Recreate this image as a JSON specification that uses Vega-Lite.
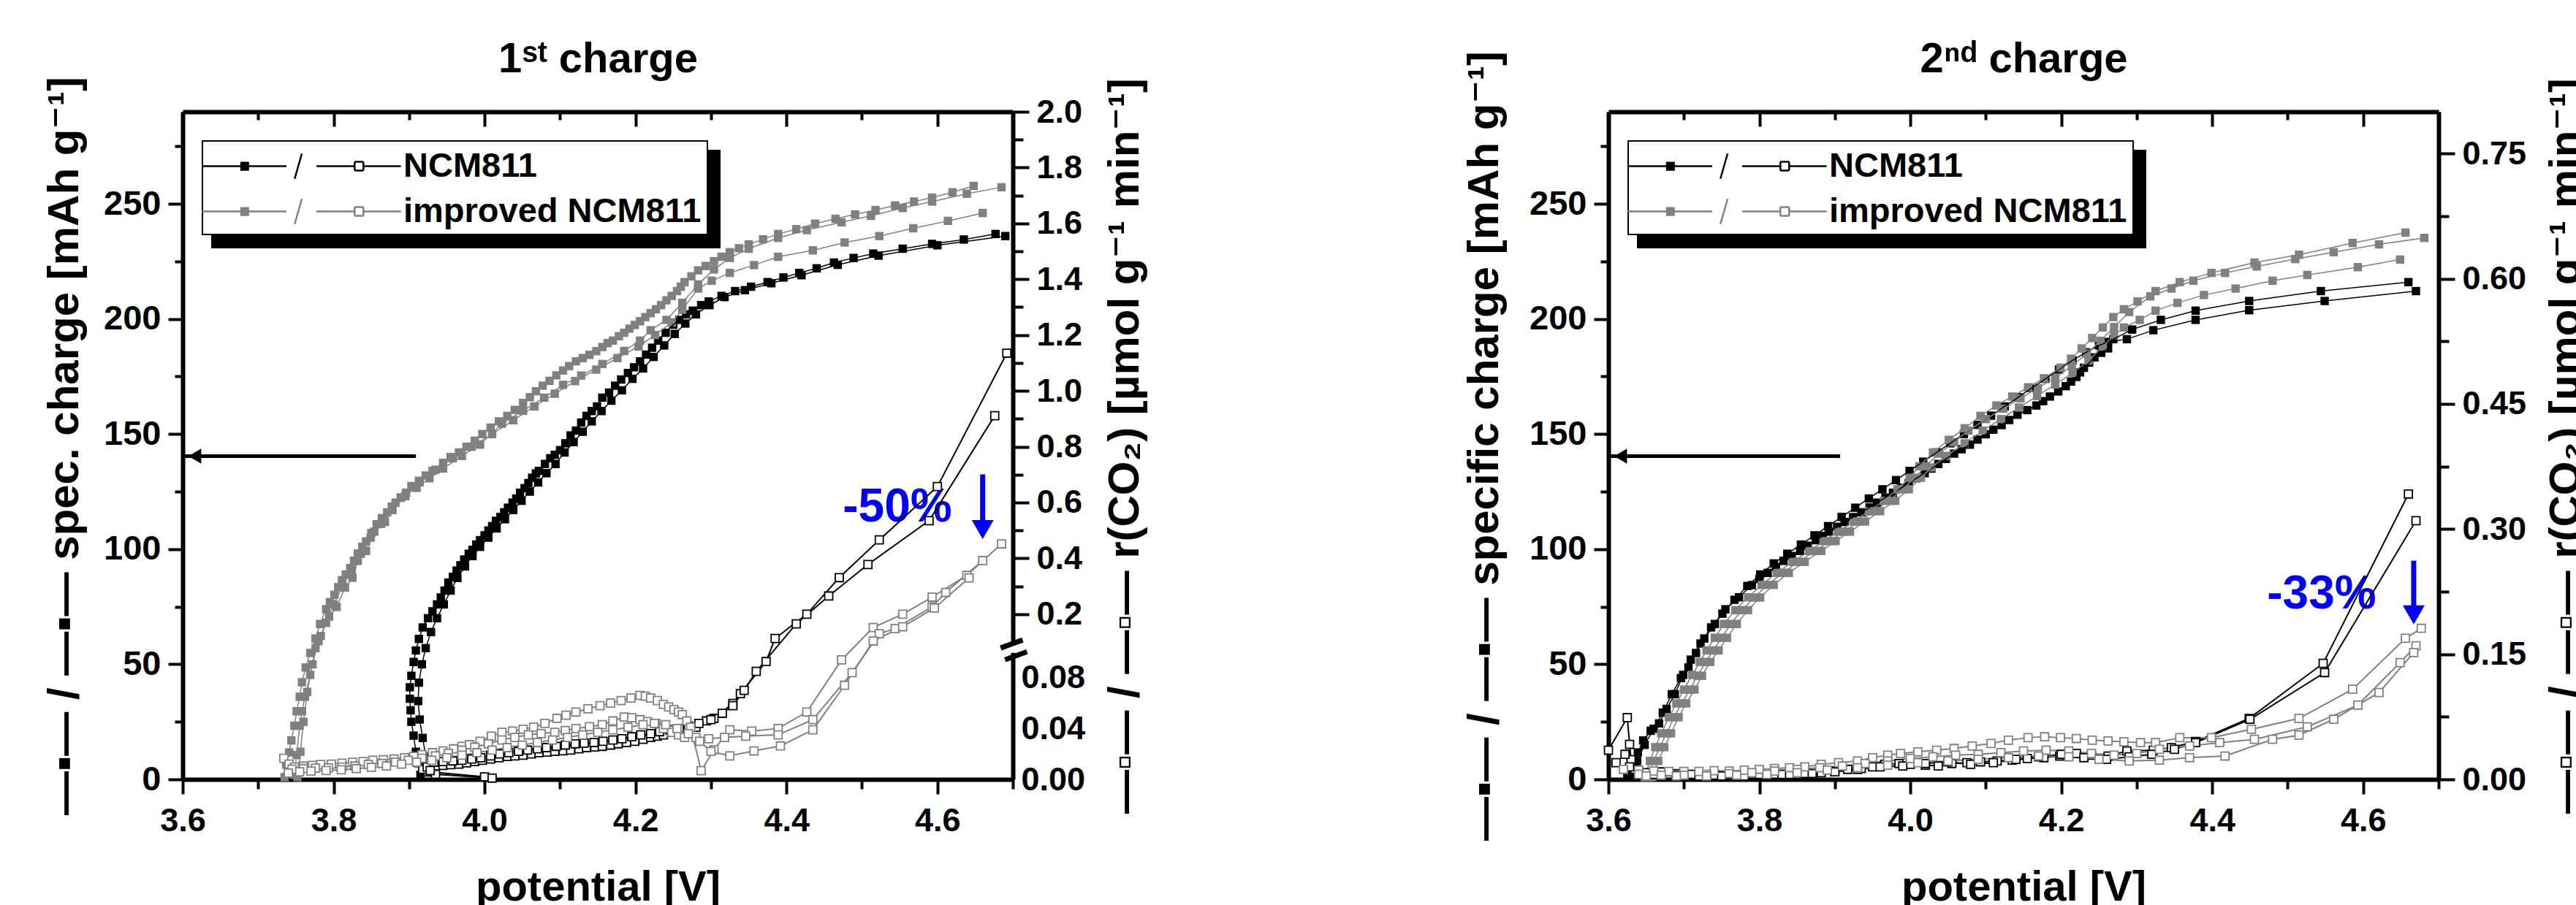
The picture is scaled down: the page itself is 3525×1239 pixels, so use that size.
{
"$schema": "https://vega.github.io/schema/vega-lite/v6.json",
"autosize": "none",
"padding": {"left": 250, "top": 153, "right": 3275, "bottom": 1086},
"config": {
 "view": {"stroke": null},
 "font": "Liberation Sans, DejaVu Sans",
 "axis": {"grid": false, "labelFont": "Liberation Sans, DejaVu Sans", "labelFontWeight": "bold", "labelFontSize": 45, "labelColor": "black", "titleFont": "Liberation Sans, DejaVu Sans", "titleFontWeight": "bold", "titleFontSize": 60, "titleColor": "black", "domainColor": "black", "domainWidth": 6, "tickColor": "black", "tickWidth": 4, "labelOverlap": false, "labelFlush": false, "labelBound": false}
},
"datasets": {
"spec1": [
{"c":"N1","V":3.915,"Q":2},{"c":"N1","V":3.912,"Q":7},{"c":"N1","V":3.909,"Q":12},{"c":"N1","V":3.906,"Q":19},{"c":"N1","V":3.903,"Q":25},{"c":"N1","V":3.902,"Q":30},{"c":"N1","V":3.901,"Q":35},{"c":"N1","V":3.901,"Q":40},{"c":"N1","V":3.903,"Q":45},{"c":"N1","V":3.906,"Q":51},{"c":"N1","V":3.909,"Q":56},{"c":"N1","V":3.913,"Q":61},{"c":"N1","V":3.918,"Q":66},{"c":"N1","V":3.925,"Q":70},{"c":"N1","V":3.931,"Q":73},{"c":"N1","V":3.937,"Q":76},{"c":"N1","V":3.942,"Q":79},{"c":"N1","V":3.947,"Q":82},{"c":"N1","V":3.952,"Q":85.5},{"c":"N1","V":3.958,"Q":88},{"c":"N1","V":3.963,"Q":90.7},{"c":"N1","V":3.968,"Q":93},{"c":"N1","V":3.973,"Q":95.5},{"c":"N1","V":3.979,"Q":98},{"c":"N1","V":3.984,"Q":99.7},{"c":"N1","V":3.989,"Q":102},{"c":"N1","V":3.994,"Q":103.9},{"c":"N1","V":4.0,"Q":106},{"c":"N1","V":4.005,"Q":108.1},{"c":"N1","V":4.01,"Q":110},{"c":"N1","V":4.015,"Q":112.3},{"c":"N1","V":4.021,"Q":114},{"c":"N1","V":4.026,"Q":116},{"c":"N1","V":4.031,"Q":118},{"c":"N1","V":4.037,"Q":120.2},{"c":"N1","V":4.042,"Q":122},{"c":"N1","V":4.047,"Q":124.5},{"c":"N1","V":4.053,"Q":126.5},{"c":"N1","V":4.058,"Q":128.7},{"c":"N1","V":4.063,"Q":131},{"c":"N1","V":4.068,"Q":132.9},{"c":"N1","V":4.072,"Q":134},{"c":"N1","V":4.08,"Q":137},{"c":"N1","V":4.087,"Q":139.5},{"c":"N1","V":4.093,"Q":141},{"c":"N1","V":4.1,"Q":143},{"c":"N1","V":4.107,"Q":146},{"c":"N1","V":4.114,"Q":149.4},{"c":"N1","V":4.121,"Q":151.5},{"c":"N1","V":4.128,"Q":155},{"c":"N1","V":4.135,"Q":157.9},{"c":"N1","V":4.142,"Q":160},{"c":"N1","V":4.149,"Q":162},{"c":"N1","V":4.156,"Q":165.8},{"c":"N1","V":4.165,"Q":168},{"c":"N1","V":4.173,"Q":171},{"c":"N1","V":4.181,"Q":173.7},{"c":"N1","V":4.19,"Q":176.5},{"c":"N1","V":4.198,"Q":179},{"c":"N1","V":4.206,"Q":181.6},{"c":"N1","V":4.214,"Q":184.5},{"c":"N1","V":4.222,"Q":187.5},{"c":"N1","V":4.23,"Q":190.6},{"c":"N1","V":4.24,"Q":194},{"c":"N1","V":4.25,"Q":197.5},{"c":"N1","V":4.258,"Q":199.6},{"c":"N1","V":4.267,"Q":202},{"c":"N1","V":4.276,"Q":203.6},{"c":"N1","V":4.287,"Q":206},{"c":"N1","V":4.297,"Q":207.6},{"c":"N1","V":4.314,"Q":210},{"c":"N1","V":4.332,"Q":212.1},{"c":"N1","V":4.353,"Q":214},{"c":"N1","V":4.375,"Q":216},{"c":"N1","V":4.396,"Q":218},{"c":"N1","V":4.417,"Q":220},{"c":"N1","V":4.44,"Q":222},{"c":"N1","V":4.463,"Q":224.5},{"c":"N1","V":4.489,"Q":226.5},{"c":"N1","V":4.515,"Q":228.4},{"c":"N1","V":4.554,"Q":230.5},{"c":"N1","V":4.593,"Q":232.6},{"c":"N1","V":4.635,"Q":234.5},{"c":"N1","V":4.677,"Q":236.9},
{"c":"N2","V":3.925,"Q":3},{"c":"N2","V":3.922,"Q":10},{"c":"N2","V":3.918,"Q":18},{"c":"N2","V":3.914,"Q":26},{"c":"N2","V":3.912,"Q":34},{"c":"N2","V":3.913,"Q":42},{"c":"N2","V":3.917,"Q":50},{"c":"N2","V":3.922,"Q":57},{"c":"N2","V":3.929,"Q":64},{"c":"N2","V":3.937,"Q":70},{"c":"N2","V":3.946,"Q":76},{"c":"N2","V":3.955,"Q":82},{"c":"N2","V":3.964,"Q":87.5},{"c":"N2","V":3.974,"Q":92.5},{"c":"N2","V":3.984,"Q":97},{"c":"N2","V":3.994,"Q":101},{"c":"N2","V":4.005,"Q":105},{"c":"N2","V":4.016,"Q":109},{"c":"N2","V":4.027,"Q":113},{"c":"N2","V":4.038,"Q":117},{"c":"N2","V":4.049,"Q":121},{"c":"N2","V":4.06,"Q":125},{"c":"N2","V":4.071,"Q":129},{"c":"N2","V":4.082,"Q":133},{"c":"N2","V":4.094,"Q":137},{"c":"N2","V":4.106,"Q":142},{"c":"N2","V":4.118,"Q":146.5},{"c":"N2","V":4.13,"Q":151},{"c":"N2","V":4.142,"Q":155.5},{"c":"N2","V":4.155,"Q":160},{"c":"N2","V":4.168,"Q":164.5},{"c":"N2","V":4.182,"Q":169},{"c":"N2","V":4.196,"Q":174},{"c":"N2","V":4.21,"Q":178.5},{"c":"N2","V":4.224,"Q":183.5},{"c":"N2","V":4.238,"Q":188.5},{"c":"N2","V":4.252,"Q":193.5},{"c":"N2","V":4.266,"Q":198},{"c":"N2","V":4.28,"Q":202},{"c":"N2","V":4.298,"Q":206},{"c":"N2","V":4.318,"Q":209.5},{"c":"N2","V":4.345,"Q":212.5},{"c":"N2","V":4.38,"Q":215.5},{"c":"N2","V":4.42,"Q":219},{"c":"N2","V":4.468,"Q":223.5},{"c":"N2","V":4.522,"Q":227.5},{"c":"N2","V":4.6,"Q":232},{"c":"N2","V":4.69,"Q":236},
{"c":"I1","V":3.735,"Q":1},{"c":"I1","V":3.737,"Q":6.4},{"c":"I1","V":3.741,"Q":11.7},{"c":"I1","V":3.744,"Q":16.9},{"c":"I1","V":3.748,"Q":23.3},{"c":"I1","V":3.751,"Q":29.6},{"c":"I1","V":3.755,"Q":35.9},{"c":"I1","V":3.758,"Q":42.2},{"c":"I1","V":3.763,"Q":48.6},{"c":"I1","V":3.769,"Q":54.9},{"c":"I1","V":3.776,"Q":61.2},{"c":"I1","V":3.782,"Q":67.5},{"c":"I1","V":3.79,"Q":73.9},{"c":"I1","V":3.795,"Q":77},{"c":"I1","V":3.801,"Q":80.2},{"c":"I1","V":3.806,"Q":83.5},{"c":"I1","V":3.811,"Q":86.5},{"c":"I1","V":3.816,"Q":89},{"c":"I1","V":3.822,"Q":91.8},{"c":"I1","V":3.827,"Q":95},{"c":"I1","V":3.832,"Q":98.1},{"c":"I1","V":3.838,"Q":101},{"c":"I1","V":3.843,"Q":103.4},{"c":"I1","V":3.85,"Q":107},{"c":"I1","V":3.857,"Q":110.8},{"c":"I1","V":3.864,"Q":113.5},{"c":"I1","V":3.871,"Q":116},{"c":"I1","V":3.877,"Q":118.5},{"c":"I1","V":3.882,"Q":120.2},{"c":"I1","V":3.889,"Q":122.5},{"c":"I1","V":3.896,"Q":124.5},{"c":"I1","V":3.903,"Q":127.4},{"c":"I1","V":3.913,"Q":129.7},{"c":"I1","V":3.922,"Q":132},{"c":"I1","V":3.931,"Q":134},{"c":"I1","V":3.945,"Q":137.5},{"c":"I1","V":3.955,"Q":140},{"c":"I1","V":3.966,"Q":142},{"c":"I1","V":3.976,"Q":144.5},{"c":"I1","V":3.987,"Q":147.1},{"c":"I1","V":3.997,"Q":150},{"c":"I1","V":4.008,"Q":152.8},{"c":"I1","V":4.019,"Q":155.5},{"c":"I1","V":4.03,"Q":157.9},{"c":"I1","V":4.04,"Q":160.5},{"c":"I1","V":4.051,"Q":163.5},{"c":"I1","V":4.06,"Q":166},{"c":"I1","V":4.068,"Q":168.6},{"c":"I1","V":4.077,"Q":171},{"c":"I1","V":4.086,"Q":173.1},{"c":"I1","V":4.095,"Q":175.5},{"c":"I1","V":4.104,"Q":177.6},{"c":"I1","V":4.112,"Q":179.5},{"c":"I1","V":4.121,"Q":181.6},{"c":"I1","V":4.13,"Q":183},{"c":"I1","V":4.139,"Q":184.4},{"c":"I1","V":4.148,"Q":186},{"c":"I1","V":4.156,"Q":187.8},{"c":"I1","V":4.163,"Q":189.5},{"c":"I1","V":4.17,"Q":190.6},{"c":"I1","V":4.178,"Q":192.5},{"c":"I1","V":4.185,"Q":194},{"c":"I1","V":4.192,"Q":195.8},{"c":"I1","V":4.199,"Q":197.4},{"c":"I1","V":4.206,"Q":199},{"c":"I1","V":4.213,"Q":200.8},{"c":"I1","V":4.22,"Q":202.5},{"c":"I1","V":4.227,"Q":204.2},{"c":"I1","V":4.234,"Q":206},{"c":"I1","V":4.241,"Q":208.1},{"c":"I1","V":4.248,"Q":210},{"c":"I1","V":4.255,"Q":212.1},{"c":"I1","V":4.26,"Q":214},{"c":"I1","V":4.265,"Q":216},{"c":"I1","V":4.274,"Q":218.5},{"c":"I1","V":4.283,"Q":221.1},{"c":"I1","V":4.293,"Q":223},{"c":"I1","V":4.304,"Q":225.1},{"c":"I1","V":4.314,"Q":227},{"c":"I1","V":4.325,"Q":229},{"c":"I1","V":4.337,"Q":230.7},{"c":"I1","V":4.35,"Q":232.4},{"c":"I1","V":4.369,"Q":234.6},{"c":"I1","V":4.389,"Q":236.9},{"c":"I1","V":4.413,"Q":239},{"c":"I1","V":4.438,"Q":241.4},{"c":"I1","V":4.465,"Q":243.5},{"c":"I1","V":4.491,"Q":245.4},{"c":"I1","V":4.518,"Q":247.3},{"c":"I1","V":4.544,"Q":249.3},{"c":"I1","V":4.569,"Q":251},{"c":"I1","V":4.593,"Q":252.7},{"c":"I1","V":4.62,"Q":255},{"c":"I1","V":4.648,"Q":257.8},
{"c":"I2","V":3.748,"Q":2},{"c":"I2","V":3.751,"Q":10.6},{"c":"I2","V":3.755,"Q":23.3},{"c":"I2","V":3.758,"Q":29.6},{"c":"I2","V":3.762,"Q":35.9},{"c":"I2","V":3.769,"Q":45.4},{"c":"I2","V":3.776,"Q":57},{"c":"I2","V":3.783,"Q":62.3},{"c":"I2","V":3.794,"Q":70.7},{"c":"I2","V":3.804,"Q":74.9},{"c":"I2","V":3.815,"Q":83.3},{"c":"I2","V":3.825,"Q":87.6},{"c":"I2","V":3.832,"Q":94.9},{"c":"I2","V":3.843,"Q":99.2},{"c":"I2","V":3.854,"Q":107.6},{"c":"I2","V":3.868,"Q":111.8},{"c":"I2","V":3.889,"Q":122.3},{"c":"I2","V":3.91,"Q":126.6},{"c":"I2","V":3.927,"Q":130.8},{"c":"I2","V":3.945,"Q":135},{"c":"I2","V":3.97,"Q":140.5},{"c":"I2","V":3.994,"Q":145.4},{"c":"I2","V":4.023,"Q":154.5},{"c":"I2","V":4.051,"Q":160.1},{"c":"I2","V":4.079,"Q":165.8},{"c":"I2","V":4.104,"Q":171.4},{"c":"I2","V":4.128,"Q":175.4},{"c":"I2","V":4.156,"Q":180.4},{"c":"I2","V":4.185,"Q":186.1},{"c":"I2","V":4.206,"Q":190.6},{"c":"I2","V":4.22,"Q":195.1},{"c":"I2","V":4.241,"Q":199.6},{"c":"I2","V":4.262,"Q":207},{"c":"I2","V":4.283,"Q":215},{"c":"I2","V":4.304,"Q":221.5},{"c":"I2","V":4.325,"Q":226.5},{"c":"I2","V":4.35,"Q":230.5},{"c":"I2","V":4.389,"Q":235.2},{"c":"I2","V":4.427,"Q":238.6},{"c":"I2","V":4.473,"Q":242},{"c":"I2","V":4.512,"Q":244.8},{"c":"I2","V":4.554,"Q":248.2},{"c":"I2","V":4.593,"Q":251},{"c":"I2","V":4.639,"Q":254.4},{"c":"I2","V":4.685,"Q":257.2},
{"c":"I3","V":3.752,"Q":1},{"c":"I3","V":3.756,"Q":12},{"c":"I3","V":3.76,"Q":25},{"c":"I3","V":3.765,"Q":38},{"c":"I3","V":3.772,"Q":50},{"c":"I3","V":3.78,"Q":60},{"c":"I3","V":3.79,"Q":68},{"c":"I3","V":3.8,"Q":76},{"c":"I3","V":3.812,"Q":84},{"c":"I3","V":3.824,"Q":91},{"c":"I3","V":3.836,"Q":98},{"c":"I3","V":3.849,"Q":105},{"c":"I3","V":3.863,"Q":111},{"c":"I3","V":3.878,"Q":117},{"c":"I3","V":3.895,"Q":123},{"c":"I3","V":3.914,"Q":129},{"c":"I3","V":3.935,"Q":134.5},{"c":"I3","V":3.958,"Q":139.5},{"c":"I3","V":3.983,"Q":144.5},{"c":"I3","V":4.01,"Q":150},{"c":"I3","V":4.038,"Q":156},{"c":"I3","V":4.066,"Q":162},{"c":"I3","V":4.093,"Q":167.5},{"c":"I3","V":4.12,"Q":173},{"c":"I3","V":4.148,"Q":178},{"c":"I3","V":4.176,"Q":183},{"c":"I3","V":4.204,"Q":188},{"c":"I3","V":4.226,"Q":193},{"c":"I3","V":4.248,"Q":198.5},{"c":"I3","V":4.262,"Q":204},{"c":"I3","V":4.283,"Q":213.2},{"c":"I3","V":4.301,"Q":216.6},{"c":"I3","V":4.325,"Q":220},{"c":"I3","V":4.357,"Q":223.4},{"c":"I3","V":4.389,"Q":227},{"c":"I3","V":4.435,"Q":229.8},{"c":"I3","V":4.477,"Q":233.2},{"c":"I3","V":4.523,"Q":236},{"c":"I3","V":4.568,"Q":239.4},{"c":"I3","V":4.614,"Q":242.6},{"c":"I3","V":4.66,"Q":246}
],
"co21": [
{"c":"N1","V":4.0,"r":0.002},{"c":"N1","V":3.925,"r":0.006},{"c":"N1","V":3.918,"r":0.008},{"c":"N1","V":3.924,"r":0.0097},{"c":"N1","V":3.935,"r":0.0105},{"c":"N1","V":3.945,"r":0.011},{"c":"N1","V":3.955,"r":0.0115},{"c":"N1","V":3.966,"r":0.012},{"c":"N1","V":3.976,"r":0.013},{"c":"N1","V":3.987,"r":0.014},{"c":"N1","V":3.997,"r":0.015},{"c":"N1","V":4.008,"r":0.016},{"c":"N1","V":4.019,"r":0.017},{"c":"N1","V":4.03,"r":0.018},{"c":"N1","V":4.04,"r":0.0185},{"c":"N1","V":4.051,"r":0.019},{"c":"N1","V":4.062,"r":0.02},{"c":"N1","V":4.072,"r":0.021},{"c":"N1","V":4.083,"r":0.0215},{"c":"N1","V":4.093,"r":0.022},{"c":"N1","V":4.104,"r":0.0225},{"c":"N1","V":4.114,"r":0.023},{"c":"N1","V":4.125,"r":0.024},{"c":"N1","V":4.135,"r":0.025},{"c":"N1","V":4.146,"r":0.0255},{"c":"N1","V":4.156,"r":0.026},{"c":"N1","V":4.167,"r":0.027},{"c":"N1","V":4.177,"r":0.028},{"c":"N1","V":4.188,"r":0.029},{"c":"N1","V":4.199,"r":0.03},{"c":"N1","V":4.21,"r":0.0315},{"c":"N1","V":4.22,"r":0.033},{"c":"N1","V":4.229,"r":0.034},{"c":"N1","V":4.237,"r":0.035},{"c":"N1","V":4.25,"r":0.037},{"c":"N1","V":4.265,"r":0.039},{"c":"N1","V":4.28,"r":0.041},{"c":"N1","V":4.294,"r":0.046},{"c":"N1","V":4.304,"r":0.048},{"c":"N1","V":4.329,"r":0.0597},{"c":"N1","V":4.339,"r":0.0674},{"c":"N1","V":4.373,"r":0.0927},{"c":"N1","V":4.385,"r":0.113},{"c":"N1","V":4.427,"r":0.2},{"c":"N1","V":4.47,"r":0.331},{"c":"N1","V":4.523,"r":0.466},{"c":"N1","V":4.6,"r":0.657},{"c":"N1","V":4.692,"r":1.135},
{"c":"N2","V":4.01,"r":0.001},{"c":"N2","V":3.935,"r":0.004},{"c":"N2","V":3.928,"r":0.007},{"c":"N2","V":3.933,"r":0.0135},{"c":"N2","V":3.945,"r":0.014},{"c":"N2","V":3.958,"r":0.0145},{"c":"N2","V":3.97,"r":0.015},{"c":"N2","V":3.983,"r":0.016},{"c":"N2","V":3.995,"r":0.017},{"c":"N2","V":4.008,"r":0.0185},{"c":"N2","V":4.02,"r":0.02},{"c":"N2","V":4.032,"r":0.021},{"c":"N2","V":4.045,"r":0.022},{"c":"N2","V":4.057,"r":0.023},{"c":"N2","V":4.07,"r":0.024},{"c":"N2","V":4.082,"r":0.025},{"c":"N2","V":4.095,"r":0.026},{"c":"N2","V":4.107,"r":0.027},{"c":"N2","V":4.12,"r":0.028},{"c":"N2","V":4.132,"r":0.0285},{"c":"N2","V":4.145,"r":0.029},{"c":"N2","V":4.157,"r":0.03},{"c":"N2","V":4.17,"r":0.031},{"c":"N2","V":4.182,"r":0.032},{"c":"N2","V":4.195,"r":0.0335},{"c":"N2","V":4.207,"r":0.035},{"c":"N2","V":4.22,"r":0.036},{"c":"N2","V":4.232,"r":0.0375},{"c":"N2","V":4.245,"r":0.039},{"c":"N2","V":4.258,"r":0.04},{"c":"N2","V":4.27,"r":0.042},{"c":"N2","V":4.284,"r":0.044},{"c":"N2","V":4.3,"r":0.047},{"c":"N2","V":4.315,"r":0.052},{"c":"N2","V":4.329,"r":0.058},{"c":"N2","V":4.344,"r":0.07},{"c":"N2","V":4.36,"r":0.085},{"c":"N2","V":4.413,"r":0.165},{"c":"N2","V":4.456,"r":0.265},{"c":"N2","V":4.508,"r":0.378},{"c":"N2","V":4.589,"r":0.535},{"c":"N2","V":4.676,"r":0.911},
{"c":"I1","V":3.734,"r":0.0166},{"c":"I1","V":3.741,"r":0.012},{"c":"I1","V":3.748,"r":0.0097},{"c":"I1","V":3.76,"r":0.0105},{"c":"I1","V":3.772,"r":0.011},{"c":"I1","V":3.783,"r":0.0117},{"c":"I1","V":3.797,"r":0.012},{"c":"I1","V":3.811,"r":0.0127},{"c":"I1","V":3.825,"r":0.0135},{"c":"I1","V":3.839,"r":0.014},{"c":"I1","V":3.852,"r":0.015},{"c":"I1","V":3.866,"r":0.0155},{"c":"I1","V":3.88,"r":0.016},{"c":"I1","V":3.894,"r":0.017},{"c":"I1","V":3.906,"r":0.018},{"c":"I1","V":3.917,"r":0.0195},{"c":"I1","V":3.931,"r":0.021},{"c":"I1","V":3.945,"r":0.0224},{"c":"I1","V":3.959,"r":0.024},{"c":"I1","V":3.97,"r":0.026},{"c":"I1","V":3.98,"r":0.0273},{"c":"I1","V":3.994,"r":0.03},{"c":"I1","V":4.009,"r":0.034},{"c":"I1","V":4.023,"r":0.037},{"c":"I1","V":4.037,"r":0.038},{"c":"I1","V":4.051,"r":0.0395},{"c":"I1","V":4.065,"r":0.041},{"c":"I1","V":4.08,"r":0.044},{"c":"I1","V":4.096,"r":0.048},{"c":"I1","V":4.108,"r":0.0505},{"c":"I1","V":4.121,"r":0.053},{"c":"I1","V":4.137,"r":0.0555},{"c":"I1","V":4.153,"r":0.058},{"c":"I1","V":4.167,"r":0.06},{"c":"I1","V":4.181,"r":0.062},{"c":"I1","V":4.194,"r":0.064},{"c":"I1","V":4.206,"r":0.066},{"c":"I1","V":4.213,"r":0.0655},{"c":"I1","V":4.22,"r":0.064},{"c":"I1","V":4.229,"r":0.062},{"c":"I1","V":4.237,"r":0.059},{"c":"I1","V":4.244,"r":0.057},{"c":"I1","V":4.251,"r":0.055},{"c":"I1","V":4.257,"r":0.053},{"c":"I1","V":4.262,"r":0.051},{"c":"I1","V":4.268,"r":0.046},{"c":"I1","V":4.273,"r":0.041},{"c":"I1","V":4.287,"r":0.0068},{"c":"I1","V":4.304,"r":0.0234},{"c":"I1","V":4.325,"r":0.039},{"c":"I1","V":4.354,"r":0.038},{"c":"I1","V":4.389,"r":0.04},{"c":"I1","V":4.427,"r":0.053},{"c":"I1","V":4.473,"r":0.094},{"c":"I1","V":4.515,"r":0.152},{"c":"I1","V":4.554,"r":0.2},{"c":"I1","V":4.593,"r":0.261},{"c":"I1","V":4.639,"r":0.339},{"c":"I1","V":4.685,"r":0.452},
{"c":"I2","V":3.745,"r":0.008},{"c":"I2","V":3.76,"r":0.0085},{"c":"I2","V":3.776,"r":0.0088},{"c":"I2","V":3.793,"r":0.009},{"c":"I2","V":3.811,"r":0.0097},{"c":"I2","V":3.828,"r":0.0105},{"c":"I2","V":3.846,"r":0.0117},{"c":"I2","V":3.864,"r":0.0125},{"c":"I2","V":3.882,"r":0.0136},{"c":"I2","V":3.899,"r":0.015},{"c":"I2","V":3.917,"r":0.0166},{"c":"I2","V":3.935,"r":0.0185},{"c":"I2","V":3.952,"r":0.0205},{"c":"I2","V":3.97,"r":0.023},{"c":"I2","V":3.987,"r":0.0253},{"c":"I2","V":4.005,"r":0.028},{"c":"I2","V":4.023,"r":0.031},{"c":"I2","V":4.04,"r":0.033},{"c":"I2","V":4.058,"r":0.035},{"c":"I2","V":4.075,"r":0.036},{"c":"I2","V":4.093,"r":0.037},{"c":"I2","V":4.107,"r":0.0385},{"c":"I2","V":4.121,"r":0.04},{"c":"I2","V":4.139,"r":0.0415},{"c":"I2","V":4.156,"r":0.043},{"c":"I2","V":4.17,"r":0.046},{"c":"I2","V":4.185,"r":0.049},{"c":"I2","V":4.195,"r":0.0485},{"c":"I2","V":4.206,"r":0.047},{"c":"I2","V":4.216,"r":0.0455},{"c":"I2","V":4.227,"r":0.044},{"c":"I2","V":4.237,"r":0.04},{"c":"I2","V":4.248,"r":0.037},{"c":"I2","V":4.257,"r":0.035},{"c":"I2","V":4.265,"r":0.033},{"c":"I2","V":4.28,"r":0.033},{"c":"I2","V":4.297,"r":0.032},{"c":"I2","V":4.318,"r":0.033},{"c":"I2","V":4.346,"r":0.034},{"c":"I2","V":4.389,"r":0.035},{"c":"I2","V":4.435,"r":0.047},{"c":"I2","V":4.487,"r":0.084},{"c":"I2","V":4.523,"r":0.13},{"c":"I2","V":4.544,"r":0.148},{"c":"I2","V":4.593,"r":0.226},{"c":"I2","V":4.611,"r":0.278},{"c":"I2","V":4.66,"r":0.392},
{"c":"I3","V":3.74,"r":0.005},{"c":"I3","V":3.755,"r":0.006},{"c":"I3","V":3.77,"r":0.0065},{"c":"I3","V":3.79,"r":0.007},{"c":"I3","V":3.81,"r":0.0075},{"c":"I3","V":3.83,"r":0.0085},{"c":"I3","V":3.85,"r":0.0095},{"c":"I3","V":3.87,"r":0.0105},{"c":"I3","V":3.89,"r":0.012},{"c":"I3","V":3.91,"r":0.0135},{"c":"I3","V":3.93,"r":0.015},{"c":"I3","V":3.95,"r":0.017},{"c":"I3","V":3.97,"r":0.019},{"c":"I3","V":3.99,"r":0.021},{"c":"I3","V":4.01,"r":0.023},{"c":"I3","V":4.03,"r":0.025},{"c":"I3","V":4.05,"r":0.027},{"c":"I3","V":4.07,"r":0.029},{"c":"I3","V":4.09,"r":0.031},{"c":"I3","V":4.11,"r":0.033},{"c":"I3","V":4.13,"r":0.035},{"c":"I3","V":4.15,"r":0.037},{"c":"I3","V":4.17,"r":0.039},{"c":"I3","V":4.19,"r":0.041},{"c":"I3","V":4.21,"r":0.043},{"c":"I3","V":4.225,"r":0.044},{"c":"I3","V":4.24,"r":0.043},{"c":"I3","V":4.255,"r":0.04},{"c":"I3","V":4.27,"r":0.036},{"c":"I3","V":4.285,"r":0.03},{"c":"I3","V":4.3,"r":0.022},{"c":"I3","V":4.325,"r":0.0185},{"c":"I3","V":4.357,"r":0.0224},{"c":"I3","V":4.392,"r":0.0263},{"c":"I3","V":4.435,"r":0.039},{"c":"I3","V":4.477,"r":0.074},{"c":"I3","V":4.515,"r":0.104},{"c":"I3","V":4.554,"r":0.155},{"c":"I3","V":4.596,"r":0.222},{"c":"I3","V":4.642,"r":0.33}
],
"ann1": [
{"k":"h","V":3.603,"V2":3.909,"Q":140.4},
{"k":"hl","V":3.616,"Q":140.4},
{"k":"v","V":4.66,"Q":132.5,"Q2":110},
{"k":"hd","V":4.66,"Q":108.5},
{"k":"t","V":4.547,"Q":118,"label":"-50%"},
{"k":"brk","V":4.7,"r":0.10005}
],
"spec2": [
{"c":"N1","V":3.625,"Q":1.6},{"c":"N1","V":3.632,"Q":6.4},{"c":"N1","V":3.639,"Q":11.7},{"c":"N1","V":3.646,"Q":16.9},{"c":"N1","V":3.656,"Q":21.1},{"c":"N1","V":3.667,"Q":24.3},{"c":"N1","V":3.677,"Q":30.6},{"c":"N1","V":3.688,"Q":37},{"c":"N1","V":3.699,"Q":45.4},{"c":"N1","V":3.706,"Q":48.6},{"c":"N1","V":3.716,"Q":54.9},{"c":"N1","V":3.727,"Q":61.2},{"c":"N1","V":3.741,"Q":67.5},{"c":"N1","V":3.755,"Q":73.9},{"c":"N1","V":3.773,"Q":79.1},{"c":"N1","V":3.79,"Q":84.4},{"c":"N1","V":3.8,"Q":87},{"c":"N1","V":3.811,"Q":89.7},{"c":"N1","V":3.822,"Q":92.3},{"c":"N1","V":3.832,"Q":94.9},{"c":"N1","V":3.843,"Q":97},{"c":"N1","V":3.854,"Q":99.2},{"c":"N1","V":3.864,"Q":101.5},{"c":"N1","V":3.875,"Q":103.9},{"c":"N1","V":3.884,"Q":105.8},{"c":"N1","V":3.892,"Q":107.6},{"c":"N1","V":3.903,"Q":109.7},{"c":"N1","V":3.913,"Q":111.8},{"c":"N1","V":3.924,"Q":113.9},{"c":"N1","V":3.935,"Q":116},{"c":"N1","V":3.946,"Q":118.1},{"c":"N1","V":3.956,"Q":120.2},{"c":"N1","V":3.967,"Q":122.4},{"c":"N1","V":3.977,"Q":124.5},{"c":"N1","V":3.988,"Q":126.6},{"c":"N1","V":3.998,"Q":128.7},{"c":"N1","V":4.008,"Q":130.8},{"c":"N1","V":4.019,"Q":133},{"c":"N1","V":4.028,"Q":135},{"c":"N1","V":4.037,"Q":137},{"c":"N1","V":4.047,"Q":139.2},{"c":"N1","V":4.058,"Q":141.5},{"c":"N1","V":4.068,"Q":143.4},{"c":"N1","V":4.079,"Q":145.4},{"c":"N1","V":4.089,"Q":147.6},{"c":"N1","V":4.1,"Q":149.9},{"c":"N1","V":4.11,"Q":151.9},{"c":"N1","V":4.121,"Q":153.9},{"c":"N1","V":4.131,"Q":156.1},{"c":"N1","V":4.142,"Q":158.4},{"c":"N1","V":4.155,"Q":160.4},{"c":"N1","V":4.167,"Q":162.4},{"c":"N1","V":4.176,"Q":164.3},{"c":"N1","V":4.185,"Q":166.3},{"c":"N1","V":4.196,"Q":168.5},{"c":"N1","V":4.206,"Q":170.8},{"c":"N1","V":4.213,"Q":172.8},{"c":"N1","V":4.22,"Q":174.8},{"c":"N1","V":4.225,"Q":176.8},{"c":"N1","V":4.23,"Q":178.8},{"c":"N1","V":4.237,"Q":181},{"c":"N1","V":4.244,"Q":183.3},{"c":"N1","V":4.253,"Q":185.3},{"c":"N1","V":4.262,"Q":187.2},{"c":"N1","V":4.269,"Q":191.2},{"c":"N1","V":4.294,"Q":195.4},{"c":"N1","V":4.332,"Q":199.6},{"c":"N1","V":4.378,"Q":203.6},{"c":"N1","V":4.449,"Q":207.8},{"c":"N1","V":4.544,"Q":212.1},{"c":"N1","V":4.66,"Q":216},
{"c":"N2","V":3.63,"Q":1},{"c":"N2","V":3.638,"Q":8},{"c":"N2","V":3.648,"Q":15},{"c":"N2","V":3.66,"Q":22},{"c":"N2","V":3.672,"Q":29},{"c":"N2","V":3.684,"Q":37},{"c":"N2","V":3.696,"Q":44},{"c":"N2","V":3.709,"Q":52},{"c":"N2","V":3.722,"Q":59},{"c":"N2","V":3.736,"Q":66},{"c":"N2","V":3.751,"Q":72},{"c":"N2","V":3.767,"Q":78},{"c":"N2","V":3.784,"Q":84},{"c":"N2","V":3.801,"Q":89},{"c":"N2","V":3.819,"Q":93.8},{"c":"N2","V":3.837,"Q":98},{"c":"N2","V":3.855,"Q":102},{"c":"N2","V":3.873,"Q":106},{"c":"N2","V":3.891,"Q":110},{"c":"N2","V":3.909,"Q":114},{"c":"N2","V":3.927,"Q":118},{"c":"N2","V":3.945,"Q":122},{"c":"N2","V":3.963,"Q":126},{"c":"N2","V":3.981,"Q":130},{"c":"N2","V":3.999,"Q":134},{"c":"N2","V":4.017,"Q":138},{"c":"N2","V":4.035,"Q":142},{"c":"N2","V":4.053,"Q":146},{"c":"N2","V":4.071,"Q":150},{"c":"N2","V":4.089,"Q":154},{"c":"N2","V":4.107,"Q":158},{"c":"N2","V":4.125,"Q":162},{"c":"N2","V":4.143,"Q":166},{"c":"N2","V":4.161,"Q":170},{"c":"N2","V":4.179,"Q":174},{"c":"N2","V":4.197,"Q":178},{"c":"N2","V":4.215,"Q":182},{"c":"N2","V":4.233,"Q":185.5},{"c":"N2","V":4.25,"Q":188.5},{"c":"N2","V":4.262,"Q":190},{"c":"N2","V":4.287,"Q":191.2},{"c":"N2","V":4.322,"Q":195.1},{"c":"N2","V":4.378,"Q":199.6},{"c":"N2","V":4.449,"Q":203.8},{"c":"N2","V":4.549,"Q":207.8},{"c":"N2","V":4.67,"Q":212.1},
{"c":"I1","V":3.648,"Q":1},{"c":"I1","V":3.655,"Q":8},{"c":"I1","V":3.662,"Q":14},{"c":"I1","V":3.67,"Q":20},{"c":"I1","V":3.68,"Q":27},{"c":"I1","V":3.69,"Q":33},{"c":"I1","V":3.7,"Q":39},{"c":"I1","V":3.711,"Q":45.4},{"c":"I1","V":3.721,"Q":51},{"c":"I1","V":3.73,"Q":56},{"c":"I1","V":3.741,"Q":61.5},{"c":"I1","V":3.753,"Q":67.5},{"c":"I1","V":3.768,"Q":73.5},{"c":"I1","V":3.785,"Q":79.1},{"c":"I1","V":3.803,"Q":84.5},{"c":"I1","V":3.823,"Q":89.7},{"c":"I1","V":3.844,"Q":94.5},{"c":"I1","V":3.866,"Q":99.2},{"c":"I1","V":3.885,"Q":103.5},{"c":"I1","V":3.904,"Q":107.6},{"c":"I1","V":3.925,"Q":112},{"c":"I1","V":3.945,"Q":116.5},{"c":"I1","V":3.965,"Q":121},{"c":"I1","V":3.983,"Q":126},{"c":"I1","V":3.999,"Q":131},{"c":"I1","V":4.012,"Q":136},{"c":"I1","V":4.03,"Q":142},{"c":"I1","V":4.051,"Q":147.5},{"c":"I1","V":4.072,"Q":152.5},{"c":"I1","V":4.093,"Q":157.9},{"c":"I1","V":4.114,"Q":162.4},{"c":"I1","V":4.135,"Q":166.3},{"c":"I1","V":4.156,"Q":170.3},{"c":"I1","V":4.177,"Q":174.2},{"c":"I1","V":4.199,"Q":178.8},{"c":"I1","V":4.213,"Q":182.7},{"c":"I1","V":4.227,"Q":187.2},{"c":"I1","V":4.241,"Q":191.7},{"c":"I1","V":4.255,"Q":196.3},{"c":"I1","V":4.269,"Q":200.8},{"c":"I1","V":4.283,"Q":204.2},{"c":"I1","V":4.301,"Q":207.6},{"c":"I1","V":4.325,"Q":212.1},{"c":"I1","V":4.357,"Q":216},{"c":"I1","V":4.399,"Q":220},{"c":"I1","V":4.456,"Q":224.5},{"c":"I1","V":4.515,"Q":227.9},{"c":"I1","V":4.586,"Q":233},{"c":"I1","V":4.656,"Q":237.5},
{"c":"I2","V":3.652,"Q":1},{"c":"I2","V":3.66,"Q":8},{"c":"I2","V":3.668,"Q":14},{"c":"I2","V":3.677,"Q":20},{"c":"I2","V":3.687,"Q":27},{"c":"I2","V":3.697,"Q":33},{"c":"I2","V":3.708,"Q":39},{"c":"I2","V":3.718,"Q":45},{"c":"I2","V":3.729,"Q":51},{"c":"I2","V":3.739,"Q":56},{"c":"I2","V":3.75,"Q":61.5},{"c":"I2","V":3.762,"Q":67.5},{"c":"I2","V":3.777,"Q":73.5},{"c":"I2","V":3.793,"Q":79},{"c":"I2","V":3.811,"Q":84.5},{"c":"I2","V":3.831,"Q":89.7},{"c":"I2","V":3.852,"Q":94.5},{"c":"I2","V":3.874,"Q":99.2},{"c":"I2","V":3.893,"Q":103.5},{"c":"I2","V":3.912,"Q":107.6},{"c":"I2","V":3.932,"Q":112},{"c":"I2","V":3.952,"Q":116.5},{"c":"I2","V":3.972,"Q":121},{"c":"I2","V":3.99,"Q":126},{"c":"I2","V":4.006,"Q":131},{"c":"I2","V":4.02,"Q":136},{"c":"I2","V":4.038,"Q":141.5},{"c":"I2","V":4.058,"Q":146.5},{"c":"I2","V":4.077,"Q":151.5},{"c":"I2","V":4.1,"Q":156.5},{"c":"I2","V":4.123,"Q":161},{"c":"I2","V":4.146,"Q":165.5},{"c":"I2","V":4.169,"Q":170},{"c":"I2","V":4.192,"Q":174.5},{"c":"I2","V":4.214,"Q":179.5},{"c":"I2","V":4.234,"Q":185},{"c":"I2","V":4.252,"Q":190.5},{"c":"I2","V":4.27,"Q":196.5},{"c":"I2","V":4.29,"Q":203},{"c":"I2","V":4.318,"Q":209.8},{"c":"I2","V":4.346,"Q":213.2},{"c":"I2","V":4.375,"Q":216.6},{"c":"I2","V":4.417,"Q":220},{"c":"I2","V":4.459,"Q":222.8},{"c":"I2","V":4.51,"Q":226},{"c":"I2","V":4.561,"Q":229},{"c":"I2","V":4.621,"Q":232.4},{"c":"I2","V":4.681,"Q":235.2},
{"c":"I3","V":3.658,"Q":1},{"c":"I3","V":3.666,"Q":8},{"c":"I3","V":3.674,"Q":14},{"c":"I3","V":3.683,"Q":20},{"c":"I3","V":3.693,"Q":27},{"c":"I3","V":3.703,"Q":33},{"c":"I3","V":3.714,"Q":39},{"c":"I3","V":3.724,"Q":45},{"c":"I3","V":3.735,"Q":51},{"c":"I3","V":3.746,"Q":56},{"c":"I3","V":3.757,"Q":61.5},{"c":"I3","V":3.77,"Q":67.5},{"c":"I3","V":3.785,"Q":73.5},{"c":"I3","V":3.801,"Q":79},{"c":"I3","V":3.819,"Q":84.5},{"c":"I3","V":3.839,"Q":89.7},{"c":"I3","V":3.86,"Q":94.5},{"c":"I3","V":3.882,"Q":99.2},{"c":"I3","V":3.901,"Q":103.5},{"c":"I3","V":3.92,"Q":107.6},{"c":"I3","V":3.94,"Q":112},{"c":"I3","V":3.96,"Q":116.5},{"c":"I3","V":3.98,"Q":121},{"c":"I3","V":3.998,"Q":126},{"c":"I3","V":4.014,"Q":131},{"c":"I3","V":4.028,"Q":135.5},{"c":"I3","V":4.048,"Q":140.5},{"c":"I3","V":4.072,"Q":146},{"c":"I3","V":4.096,"Q":151.5},{"c":"I3","V":4.12,"Q":156.5},{"c":"I3","V":4.144,"Q":161.5},{"c":"I3","V":4.168,"Q":166.5},{"c":"I3","V":4.192,"Q":171.5},{"c":"I3","V":4.215,"Q":176.5},{"c":"I3","V":4.236,"Q":182},{"c":"I3","V":4.255,"Q":188},{"c":"I3","V":4.27,"Q":193},{"c":"I3","V":4.283,"Q":196.3},{"c":"I3","V":4.304,"Q":199.6},{"c":"I3","V":4.325,"Q":203.6},{"c":"I3","V":4.354,"Q":207},{"c":"I3","V":4.389,"Q":210.4},{"c":"I3","V":4.431,"Q":213.2},{"c":"I3","V":4.48,"Q":216.6},{"c":"I3","V":4.526,"Q":219.1},{"c":"I3","V":4.593,"Q":222.5},{"c":"I3","V":4.649,"Q":225.8}
],
"co22": [
{"c":"N1","V":3.6,"r":0.035},{"c":"N1","V":3.625,"r":0.074},{"c":"N1","V":3.628,"r":0.042},{"c":"N1","V":3.63,"r":0.0235},{"c":"N1","V":3.635,"r":0.012},{"c":"N1","V":3.65,"r":0.008},{"c":"N1","V":3.67,"r":0.009},{"c":"N1","V":3.69,"r":0.007},{"c":"N1","V":3.71,"r":0.006},{"c":"N1","V":3.741,"r":0.005},{"c":"N1","V":3.77,"r":0.005},{"c":"N1","V":3.8,"r":0.006},{"c":"N1","V":3.83,"r":0.006},{"c":"N1","V":3.86,"r":0.007},{"c":"N1","V":3.882,"r":0.008},{"c":"N1","V":3.9,"r":0.01},{"c":"N1","V":3.917,"r":0.012},{"c":"N1","V":3.935,"r":0.013},{"c":"N1","V":3.95,"r":0.015},{"c":"N1","V":3.966,"r":0.018},{"c":"N1","V":3.985,"r":0.019},{"c":"N1","V":4.0,"r":0.018},{"c":"N1","V":4.02,"r":0.017},{"c":"N1","V":4.037,"r":0.016},{"c":"N1","V":4.055,"r":0.019},{"c":"N1","V":4.075,"r":0.02},{"c":"N1","V":4.093,"r":0.021},{"c":"N1","V":4.115,"r":0.022},{"c":"N1","V":4.135,"r":0.023},{"c":"N1","V":4.155,"r":0.025},{"c":"N1","V":4.177,"r":0.026},{"c":"N1","V":4.198,"r":0.028},{"c":"N1","V":4.22,"r":0.031},{"c":"N1","V":4.24,"r":0.029},{"c":"N1","V":4.262,"r":0.028},{"c":"N1","V":4.287,"r":0.034},{"c":"N1","V":4.322,"r":0.035},{"c":"N1","V":4.346,"r":0.038},{"c":"N1","V":4.378,"r":0.0454},{"c":"N1","V":4.449,"r":0.073},{"c":"N1","V":4.547,"r":0.139},{"c":"N1","V":4.66,"r":0.342},
{"c":"N2","V":3.61,"r":0.02},{"c":"N2","V":3.622,"r":0.03},{"c":"N2","V":3.628,"r":0.015},{"c":"N2","V":3.64,"r":0.008},{"c":"N2","V":3.66,"r":0.006},{"c":"N2","V":3.69,"r":0.005},{"c":"N2","V":3.72,"r":0.004},{"c":"N2","V":3.75,"r":0.004},{"c":"N2","V":3.78,"r":0.004},{"c":"N2","V":3.81,"r":0.005},{"c":"N2","V":3.84,"r":0.006},{"c":"N2","V":3.87,"r":0.007},{"c":"N2","V":3.9,"r":0.009},{"c":"N2","V":3.93,"r":0.012},{"c":"N2","V":3.96,"r":0.015},{"c":"N2","V":3.99,"r":0.016},{"c":"N2","V":4.02,"r":0.019},{"c":"N2","V":4.05,"r":0.021},{"c":"N2","V":4.08,"r":0.018},{"c":"N2","V":4.11,"r":0.02},{"c":"N2","V":4.14,"r":0.024},{"c":"N2","V":4.17,"r":0.027},{"c":"N2","V":4.2,"r":0.03},{"c":"N2","V":4.23,"r":0.026},{"c":"N2","V":4.26,"r":0.024},{"c":"N2","V":4.29,"r":0.027},{"c":"N2","V":4.32,"r":0.03},{"c":"N2","V":4.35,"r":0.036},{"c":"N2","V":4.378,"r":0.044},{"c":"N2","V":4.45,"r":0.072},{"c":"N2","V":4.549,"r":0.128},{"c":"N2","V":4.67,"r":0.31},
{"c":"I1","V":3.62,"r":0.012},{"c":"I1","V":3.64,"r":0.011},{"c":"I1","V":3.66,"r":0.01},{"c":"I1","V":3.68,"r":0.0095},{"c":"I1","V":3.7,"r":0.0095},{"c":"I1","V":3.72,"r":0.0095},{"c":"I1","V":3.74,"r":0.0104},{"c":"I1","V":3.76,"r":0.01},{"c":"I1","V":3.78,"r":0.011},{"c":"I1","V":3.8,"r":0.012},{"c":"I1","V":3.82,"r":0.013},{"c":"I1","V":3.84,"r":0.014},{"c":"I1","V":3.86,"r":0.015},{"c":"I1","V":3.882,"r":0.018},{"c":"I1","V":3.905,"r":0.02},{"c":"I1","V":3.93,"r":0.022},{"c":"I1","V":3.95,"r":0.026},{"c":"I1","V":3.97,"r":0.029},{"c":"I1","V":3.987,"r":0.031},{"c":"I1","V":4.01,"r":0.033},{"c":"I1","V":4.035,"r":0.035},{"c":"I1","V":4.058,"r":0.037},{"c":"I1","V":4.082,"r":0.04},{"c":"I1","V":4.107,"r":0.043},{"c":"I1","V":4.13,"r":0.047},{"c":"I1","V":4.156,"r":0.05},{"c":"I1","V":4.178,"r":0.051},{"c":"I1","V":4.199,"r":0.05},{"c":"I1","V":4.22,"r":0.049},{"c":"I1","V":4.241,"r":0.047},{"c":"I1","V":4.262,"r":0.046},{"c":"I1","V":4.283,"r":0.045},{"c":"I1","V":4.305,"r":0.044},{"c":"I1","V":4.325,"r":0.044},{"c":"I1","V":4.357,"r":0.05},{"c":"I1","V":4.399,"r":0.05},{"c":"I1","V":4.452,"r":0.06},{"c":"I1","V":4.515,"r":0.073},{"c":"I1","V":4.586,"r":0.108},{"c":"I1","V":4.656,"r":0.169},{"c":"I1","V":4.677,"r":0.181},
{"c":"I2","V":3.64,"r":0.006},{"c":"I2","V":3.67,"r":0.005},{"c":"I2","V":3.7,"r":0.005},{"c":"I2","V":3.73,"r":0.006},{"c":"I2","V":3.76,"r":0.007},{"c":"I2","V":3.79,"r":0.008},{"c":"I2","V":3.82,"r":0.01},{"c":"I2","V":3.85,"r":0.012},{"c":"I2","V":3.88,"r":0.014},{"c":"I2","V":3.91,"r":0.016},{"c":"I2","V":3.94,"r":0.019},{"c":"I2","V":3.97,"r":0.022},{"c":"I2","V":4.0,"r":0.025},{"c":"I2","V":4.03,"r":0.027},{"c":"I2","V":4.06,"r":0.029},{"c":"I2","V":4.09,"r":0.03},{"c":"I2","V":4.12,"r":0.032},{"c":"I2","V":4.15,"r":0.034},{"c":"I2","V":4.18,"r":0.035},{"c":"I2","V":4.21,"r":0.034},{"c":"I2","V":4.24,"r":0.031},{"c":"I2","V":4.27,"r":0.029},{"c":"I2","V":4.3,"r":0.031},{"c":"I2","V":4.33,"r":0.036},{"c":"I2","V":4.37,"r":0.04},{"c":"I2","V":4.41,"r":0.044},{"c":"I2","V":4.456,"r":0.048},{"c":"I2","V":4.526,"r":0.063},{"c":"I2","V":4.593,"r":0.089},{"c":"I2","V":4.649,"r":0.14},{"c":"I2","V":4.67,"r":0.16},
{"c":"I3","V":3.65,"r":0.004},{"c":"I3","V":3.69,"r":0.004},{"c":"I3","V":3.73,"r":0.004},{"c":"I3","V":3.77,"r":0.005},{"c":"I3","V":3.81,"r":0.006},{"c":"I3","V":3.85,"r":0.008},{"c":"I3","V":3.89,"r":0.011},{"c":"I3","V":3.93,"r":0.014},{"c":"I3","V":3.97,"r":0.017},{"c":"I3","V":4.01,"r":0.02},{"c":"I3","V":4.05,"r":0.022},{"c":"I3","V":4.09,"r":0.024},{"c":"I3","V":4.13,"r":0.026},{"c":"I3","V":4.17,"r":0.028},{"c":"I3","V":4.21,"r":0.027},{"c":"I3","V":4.25,"r":0.024},{"c":"I3","V":4.29,"r":0.022},{"c":"I3","V":4.33,"r":0.023},{"c":"I3","V":4.37,"r":0.026},{"c":"I3","V":4.417,"r":0.028},{"c":"I3","V":4.48,"r":0.048},{"c":"I3","V":4.515,"r":0.053},{"c":"I3","V":4.561,"r":0.072},{"c":"I3","V":4.621,"r":0.104},{"c":"I3","V":4.667,"r":0.152}
],
"ann2": [
{"k":"h","V":3.603,"V2":3.907,"Q":140.4},
{"k":"hl","V":3.616,"Q":140.4},
{"k":"v","V":4.667,"Q":95,"Q2":75},
{"k":"hd","V":4.667,"Q":71.5},
{"k":"t","V":4.545,"Q":80.4,"label":"-33%"}
]
},
"hconcat": [
{
 "width": 1136, "height": 914,
 "resolve": {"scale": {"y": "independent"}, "axis": {"x": "independent", "y": "independent"}},
 "layer": [
  {
   "data": {"name": "spec1"},
   "encoding": {
    "x": {"field": "V", "type": "quantitative", "scale": {"domain": [3.6, 4.7], "nice": false, "zero": false},
      "axis": {"orient": "bottom", "values": [3.6,3.7,3.8,3.9,4.0,4.1,4.2,4.3,4.4,4.5,4.6,4.7], "labelExpr": "round(datum.value*10) % 2 == 0 ? format(datum.value, '.1f') : ''", "tickSize": {"condition": {"test": "round(datum.value*10) % 2 == 0", "value": 20}, "value": 13}, "title": "potential [V]", "titleFontSize": 58, "labelPadding": 14, "titlePadding": 40}},
    "y": {"field": "Q", "type": "quantitative", "scale": {"domain": [0, 290], "nice": false, "zero": false},
      "axis": {"orient": "left", "values": [0,25,50,75,100,125,150,175,200,225,250,275], "labelExpr": "datum.value % 50 == 0 ? datum.label : ''", "tickSize": {"condition": {"test": "datum.value % 50 == 0", "value": 20}, "value": 11}, "title": "—▪— / —▪—  spec. charge [mAh g⁻¹]", "labelFontSize": 47, "labelPadding": 10, "titlePadding": 22}}
   },
   "layer": [
    {"mark": {"type": "point", "shape": "square", "filled": true, "size": 130, "opacity": 1, "strokeWidth": 0},
     "encoding": {"fill": {"field": "c", "type": "nominal", "scale": {"domain": ["I1","I2","I3","N1","N2"], "range": ["#808080","#808080","#808080","#000000","#000000"]},
       "legend": {"values": ["N1","I1"], "labelExpr": "''", "title": null, "orient": "none", "legendX": 39, "legendY": 52, "symbolType": "M-5.443,0H21.9M21.9,-0.85V0.85", "symbolSize": 2500, "symbolOffset": 101, "symbolStrokeWidth": 2.5, "symbolStrokeColor": "black", "labelFontSize": 47, "labelColor": "black", "labelOffset": 103, "padding": 8, "rowPadding": 12, "fillColor": "black", "strokeColor": "black"}}}},
    {"mark": {"type": "line", "strokeWidth": 1.5},
     "encoding": {
      "stroke": {"field": "c", "type": "nominal", "scale": {"domain": ["N1","N2","I1","I2","I3"], "range": ["#000000","#000000","#808080","#808080","#808080"]},
        "legend": {"values": ["N1","I1"], "labelExpr": "datum.value == 'N1' ? 'NCM811' : 'improved NCM811'", "title": null, "orient": "none", "legendX": 27, "legendY": 40, "symbolType": "M-5.443,0H-0.822M-3.348,-0.195H-2.868M-3.348,-0.13H-2.868M-3.348,-0.065H-2.868M-3.348,0.065H-2.868M-3.348,0.13H-2.868M-3.348,0.195H-2.868M-0.371,0.691L0.022,-0.691M0.822,0H2.912M3.391,0H5.443M2.912,-0.239H3.391M3.391,-0.239V0.239M3.391,0.239H2.912M2.912,0.239V-0.239", "symbolSize": 2500, "symbolOffset": 101, "symbolStrokeWidth": 2.5, "labelFontSize": 47, "labelFont": "Liberation Sans, DejaVu Sans", "labelFontWeight": "bold", "labelColor": "black", "labelOffset": 113, "labelLimit": 1000, "padding": 8, "rowPadding": 12, "fillColor": "white", "strokeColor": "black", "encode": {"legend": {"update": {"strokeWidth": {"value": 2}}}}}},
      "detail": {"field": "c"},
      "order": {"value": null}
     }},
    {"data": {"name": "ann1"}, "transform": [{"filter": "datum.k == 'h'"}], "mark": {"type": "rule", "strokeWidth": 5, "color": "black"}, "encoding": {"x2": {"field": "V2"}}},
    {"data": {"name": "ann1"}, "transform": [{"filter": "datum.k == 'hl'"}], "mark": {"type": "point", "shape": "triangle-left", "filled": true, "size": 420, "color": "black", "opacity": 1}},
    {"data": {"name": "ann1"}, "transform": [{"filter": "datum.k == 'v'"}], "mark": {"type": "rule", "strokeWidth": 7, "color": "#0000ff"}, "encoding": {"y2": {"field": "Q2"}}},
    {"data": {"name": "ann1"}, "transform": [{"filter": "datum.k == 'hd'"}], "mark": {"type": "point", "shape": "triangle-down", "filled": true, "size": 900, "color": "#0000ff", "opacity": 1}},
    {"data": {"name": "ann1"}, "transform": [{"filter": "datum.k == 't'"}], "mark": {"type": "text", "fontSize": 64, "fontWeight": "bold", "color": "#0000ff", "align": "center", "baseline": "middle", "font": "Liberation Sans, DejaVu Sans"}, "encoding": {"text": {"field": "label"}}}
   ]
  },
  {
   "data": {"name": "co21"},
   "encoding": {
    "x": {"field": "V", "type": "quantitative", "scale": {"domain": [3.6, 4.7], "nice": false, "zero": false},
      "axis": {"orient": "top", "values": [3.6,3.7,3.8,3.9,4.0,4.1,4.2,4.3,4.4,4.5,4.6,4.7], "labels": false, "title": "1ˢᵗ charge", "titleFontSize": 58, "titleBaseline": "alphabetic", "titlePadding": 53, "tickSize": {"condition": {"test": "round(datum.value*10) % 2 == 0", "value": -20}, "value": -11}}},
    "y": {"field": "r", "type": "quantitative", "scale": {"domain": [0, 0.1, 0.1001, 2.0], "range": [914, 740, 726, 0], "nice": false, "zero": false},
      "axis": {"orient": "right", "values": [0,0.02,0.04,0.06,0.08,0.2,0.3,0.4,0.5,0.6,0.7,0.8,0.9,1.0,1.1,1.2,1.3,1.4,1.5,1.6,1.7,1.8,1.9,2.0], "labelExpr": "datum.value < 0.09 ? (round(datum.value*100) % 4 == 0 ? format(datum.value, '.2f') : '') : (round(datum.value*10) % 2 == 0 ? format(datum.value, '.1f') : '')", "tickSize": {"condition": {"test": "datum.value < 0.09 ? round(datum.value*100) % 4 == 0 : round(datum.value*10) % 2 == 0", "value": 22}, "value": 14}, "title": "—▫— / —▫—  r(CO₂) [µmol g⁻¹ min⁻¹]", "titleAngle": 270, "titleBaseline": "top", "labelPadding": 10, "titlePadding": 26}}
   },
   "layer": [
    {"mark": {"type": "line", "strokeWidth": 2},
     "encoding": {
      "stroke": {"field": "c", "type": "nominal", "scale": {"domain": ["N1","N2","I1","I2","I3"], "range": ["#000000","#000000","#808080","#808080","#808080"]},
        "legend": {"values": ["N1","I1"], "labelExpr": "datum.value == 'N1' ? 'NCM811' : 'improved NCM811'", "title": null, "orient": "none", "legendX": 27, "legendY": 40, "symbolType": "M-5.443,0H-0.822M-3.348,-0.195H-2.868M-3.348,-0.13H-2.868M-3.348,-0.065H-2.868M-3.348,0.065H-2.868M-3.348,0.13H-2.868M-3.348,0.195H-2.868M-0.371,0.691L0.022,-0.691M0.822,0H2.912M3.391,0H5.443M2.912,-0.239H3.391M3.391,-0.239V0.239M3.391,0.239H2.912M2.912,0.239V-0.239", "symbolSize": 2500, "symbolOffset": 101, "symbolStrokeWidth": 2.5, "labelFontSize": 47, "labelFont": "Liberation Sans, DejaVu Sans", "labelFontWeight": "bold", "labelColor": "black", "labelOffset": 113, "labelLimit": 1000, "padding": 8, "rowPadding": 12, "fillColor": "white", "strokeColor": "black", "encode": {"legend": {"update": {"strokeWidth": {"value": 2}}}}}},
      "detail": {"field": "c"},
      "order": {"value": null}
     }},
    {"mark": {"type": "point", "shape": "square", "filled": false, "fill": "white", "size": 120, "opacity": 1, "strokeWidth": 1.8},
     "encoding": {"stroke": {"field": "c", "type": "nominal", "scale": {"domain": ["N1","N2","I1","I2","I3"], "range": ["#000000","#000000","#808080","#808080","#808080"]}}}},
    {"data": {"name": "ann1"}, "transform": [{"filter": "datum.k == 'brk'"}], "mark": {"type": "point", "shape": "square", "filled": true, "size": 240, "color": "white", "opacity": 1, "strokeWidth": 0}},
    {"data": {"name": "ann1"}, "transform": [{"filter": "datum.k == 'brk'"}], "mark": {"type": "text", "text": "=", "fontSize": 64, "fontWeight": "bold", "angle": -20, "color": "black", "align": "center", "baseline": "middle", "dy": 6}}
   ]
  }
 ]
},
{
 "width": 1136, "height": 914,
 "resolve": {"scale": {"y": "independent"}, "axis": {"x": "independent", "y": "independent"}},
 "layer": [
  {
   "data": {"name": "spec2"},
   "encoding": {
    "x": {"field": "V", "type": "quantitative", "scale": {"domain": [3.6, 4.7], "nice": false, "zero": false},
      "axis": {"orient": "bottom", "values": [3.6,3.7,3.8,3.9,4.0,4.1,4.2,4.3,4.4,4.5,4.6,4.7], "labelExpr": "round(datum.value*10) % 2 == 0 ? format(datum.value, '.1f') : ''", "tickSize": {"condition": {"test": "round(datum.value*10) % 2 == 0", "value": 20}, "value": 13}, "title": "potential [V]", "titleFontSize": 58, "labelPadding": 14, "titlePadding": 40}},
    "y": {"field": "Q", "type": "quantitative", "scale": {"domain": [0, 290], "nice": false, "zero": false},
      "axis": {"orient": "left", "values": [0,25,50,75,100,125,150,175,200,225,250,275], "labelExpr": "datum.value % 50 == 0 ? datum.label : ''", "tickSize": {"condition": {"test": "datum.value % 50 == 0", "value": 20}, "value": 11}, "title": "—▪— / —▪—  specific charge [mAh g⁻¹]", "labelFontSize": 47, "labelPadding": 10, "titlePadding": 30}}
   },
   "layer": [
    {"mark": {"type": "point", "shape": "square", "filled": true, "size": 130, "opacity": 1, "strokeWidth": 0},
     "encoding": {"fill": {"field": "c", "type": "nominal", "scale": {"domain": ["I1","I2","I3","N1","N2"], "range": ["#808080","#808080","#808080","#000000","#000000"]},
       "legend": {"values": ["N1","I1"], "labelExpr": "''", "title": null, "orient": "none", "legendX": 39, "legendY": 52, "symbolType": "M-5.443,0H21.9M21.9,-0.85V0.85", "symbolSize": 2500, "symbolOffset": 101, "symbolStrokeWidth": 2.5, "symbolStrokeColor": "black", "labelFontSize": 47, "labelColor": "black", "labelOffset": 103, "padding": 8, "rowPadding": 12, "fillColor": "black", "strokeColor": "black"}}}},
    {"mark": {"type": "line", "strokeWidth": 1.5},
     "encoding": {
      "stroke": {"field": "c", "type": "nominal", "scale": {"domain": ["N1","N2","I1","I2","I3"], "range": ["#000000","#000000","#808080","#808080","#808080"]},
        "legend": {"values": ["N1","I1"], "labelExpr": "datum.value == 'N1' ? 'NCM811' : 'improved NCM811'", "title": null, "orient": "none", "legendX": 27, "legendY": 40, "symbolType": "M-5.443,0H-0.822M-3.348,-0.195H-2.868M-3.348,-0.13H-2.868M-3.348,-0.065H-2.868M-3.348,0.065H-2.868M-3.348,0.13H-2.868M-3.348,0.195H-2.868M-0.371,0.691L0.022,-0.691M0.822,0H2.912M3.391,0H5.443M2.912,-0.239H3.391M3.391,-0.239V0.239M3.391,0.239H2.912M2.912,0.239V-0.239", "symbolSize": 2500, "symbolOffset": 101, "symbolStrokeWidth": 2.5, "labelFontSize": 47, "labelFont": "Liberation Sans, DejaVu Sans", "labelFontWeight": "bold", "labelColor": "black", "labelOffset": 113, "labelLimit": 1000, "padding": 8, "rowPadding": 12, "fillColor": "white", "strokeColor": "black", "encode": {"legend": {"update": {"strokeWidth": {"value": 2}}}}}},
      "detail": {"field": "c"},
      "order": {"value": null}
     }},
    {"data": {"name": "ann2"}, "transform": [{"filter": "datum.k == 'h'"}], "mark": {"type": "rule", "strokeWidth": 5, "color": "black"}, "encoding": {"x2": {"field": "V2"}}},
    {"data": {"name": "ann2"}, "transform": [{"filter": "datum.k == 'hl'"}], "mark": {"type": "point", "shape": "triangle-left", "filled": true, "size": 420, "color": "black", "opacity": 1}},
    {"data": {"name": "ann2"}, "transform": [{"filter": "datum.k == 'v'"}], "mark": {"type": "rule", "strokeWidth": 7, "color": "#0000ff"}, "encoding": {"y2": {"field": "Q2"}}},
    {"data": {"name": "ann2"}, "transform": [{"filter": "datum.k == 'hd'"}], "mark": {"type": "point", "shape": "triangle-down", "filled": true, "size": 900, "color": "#0000ff", "opacity": 1}},
    {"data": {"name": "ann2"}, "transform": [{"filter": "datum.k == 't'"}], "mark": {"type": "text", "fontSize": 64, "fontWeight": "bold", "color": "#0000ff", "align": "center", "baseline": "middle", "font": "Liberation Sans, DejaVu Sans"}, "encoding": {"text": {"field": "label"}}}
   ]
  },
  {
   "data": {"name": "co22"},
   "encoding": {
    "x": {"field": "V", "type": "quantitative", "scale": {"domain": [3.6, 4.7], "nice": false, "zero": false},
      "axis": {"orient": "top", "values": [3.6,3.7,3.8,3.9,4.0,4.1,4.2,4.3,4.4,4.5,4.6,4.7], "labels": false, "title": "2ⁿᵈ charge", "titleFontSize": 58, "titleBaseline": "alphabetic", "titlePadding": 53, "tickSize": {"condition": {"test": "round(datum.value*10) % 2 == 0", "value": -20}, "value": -11}}},
    "y": {"field": "r", "type": "quantitative", "scale": {"domain": [0, 0.8], "nice": false, "zero": false},
      "axis": {"orient": "right", "values": [0,0.075,0.15,0.225,0.3,0.375,0.45,0.525,0.6,0.675,0.75], "labelExpr": "round(datum.value/0.075) % 2 == 0 ? format(datum.value, '.2f') : ''", "tickSize": {"condition": {"test": "round(datum.value/0.075) % 2 == 0", "value": 22}, "value": 14}, "title": "—▫— / —▫—  r(CO₂) [µmol g⁻¹ min⁻¹]", "titleAngle": 270, "titleBaseline": "top", "labelPadding": 10, "titlePadding": 26}}
   },
   "layer": [
    {"mark": {"type": "line", "strokeWidth": 2},
     "encoding": {
      "stroke": {"field": "c", "type": "nominal", "scale": {"domain": ["N1","N2","I1","I2","I3"], "range": ["#000000","#000000","#808080","#808080","#808080"]},
        "legend": {"values": ["N1","I1"], "labelExpr": "datum.value == 'N1' ? 'NCM811' : 'improved NCM811'", "title": null, "orient": "none", "legendX": 27, "legendY": 40, "symbolType": "M-5.443,0H-0.822M-3.348,-0.195H-2.868M-3.348,-0.13H-2.868M-3.348,-0.065H-2.868M-3.348,0.065H-2.868M-3.348,0.13H-2.868M-3.348,0.195H-2.868M-0.371,0.691L0.022,-0.691M0.822,0H2.912M3.391,0H5.443M2.912,-0.239H3.391M3.391,-0.239V0.239M3.391,0.239H2.912M2.912,0.239V-0.239", "symbolSize": 2500, "symbolOffset": 101, "symbolStrokeWidth": 2.5, "labelFontSize": 47, "labelFont": "Liberation Sans, DejaVu Sans", "labelFontWeight": "bold", "labelColor": "black", "labelOffset": 113, "labelLimit": 1000, "padding": 8, "rowPadding": 12, "fillColor": "white", "strokeColor": "black", "encode": {"legend": {"update": {"strokeWidth": {"value": 2}}}}}},
      "detail": {"field": "c"},
      "order": {"value": null}
     }},
    {"mark": {"type": "point", "shape": "square", "filled": false, "fill": "white", "size": 120, "opacity": 1, "strokeWidth": 1.8},
     "encoding": {"stroke": {"field": "c", "type": "nominal", "scale": {"domain": ["N1","N2","I1","I2","I3"], "range": ["#000000","#000000","#808080","#808080","#808080"]}}}}
   ]
  }
 ]
}
],
"spacing": 815,
"bounds": "flush",
"resolve": {"scale": {"stroke": "independent", "fill": "independent"}, "legend": {"stroke": "independent", "fill": "independent"}}
}
